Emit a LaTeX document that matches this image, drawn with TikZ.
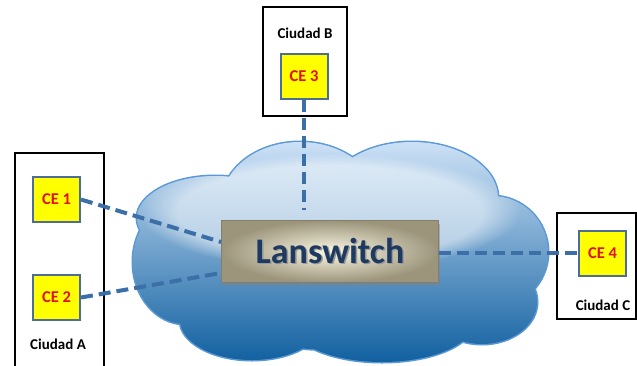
\documentclass[tikz,border=0pt]{standalone}
\usepackage{fontspec}
\setmainfont{Carlito}
\usetikzlibrary{shadows,fadings}
\definecolor{linkblue}{HTML}{3C6EA8}
\definecolor{ceborder}{HTML}{4E6D94}
\definecolor{cered}{HTML}{E0100A}
\definecolor{ceyellow}{HTML}{FFFF00}
\definecolor{cloudtop}{HTML}{CFE3F7}
\definecolor{cloudmid}{HTML}{3C8BD0}
\definecolor{cloudbot}{HTML}{0E5E9F}
\definecolor{cloudrim}{HTML}{5A98D6}
\definecolor{lancenter}{HTML}{FBF7E2}
\definecolor{lanedge}{HTML}{9C957C}
\definecolor{lanborder}{HTML}{857F6A}
\definecolor{lantext}{HTML}{1F3A60}
\begin{document}
\begin{tikzpicture}[x=1pt,y=-1pt,
  site/.style={draw=black, line width=1.2pt, fill=white, inner sep=0pt},
  cebox/.style={draw=ceborder, line width=2pt, fill=ceyellow, minimum width=47pt,
    minimum height=45pt, inner sep=0pt, text=cered, font=\fontsize{16.5}{18}\selectfont\bfseries},
  sitelabel/.style={font=\fontsize{15}{17}\selectfont\bfseries, inner sep=0pt},
  link/.style={draw=linkblue, line width=4pt, dash pattern=on 12pt off 6pt},
  switchbox/.style={draw=lanborder, line width=0.8pt, inner color=lancenter, outer color=lanedge,
    minimum width=217pt, minimum height=62pt, inner sep=0pt, text=lantext,
    font=\fontsize{36}{40}\selectfont\bfseries,
    drop shadow={shadow xshift=1pt, shadow yshift=-3pt, opacity=0.45}}
]
\useasboundingbox (0,0) rectangle (637,365);

% city enclosures
\node[site, minimum width=89pt, minimum height=232pt] (cityA) at (59.5,269) {};
\node[site, minimum width=84pt, minimum height=109pt] (cityB) at (305,61.5) {};
\node[site, minimum width=79pt, minimum height=106pt] (cityC) at (596.5,266) {};

% the cloud: rim first, then the shaded body on top
\def\cloudshape{
  (340,268) ellipse [x radius=190pt, y radius=82pt]
  (215,218) ellipse [x radius=78pt, y radius=42pt]
  (300,202) ellipse [x radius=78pt, y radius=60pt]
  (412,198) ellipse [x radius=86pt, y radius=56pt]
  (492,252) ellipse [x radius=56pt, y radius=56pt]
  (185,262) ellipse [x radius=52pt, y radius=62pt]
  (252,320) ellipse [x radius=72pt, y radius=40pt]
  (382,322) ellipse [x radius=92pt, y radius=40pt]
  (482,302) ellipse [x radius=55pt, y radius=42pt]
}
\draw[cloudrim, line width=3pt] \cloudshape;
\begin{scope}
  \clip \cloudshape;
  \shade[top color=cloudtop, middle color=cloudmid, bottom color=cloudbot] (128,138) rectangle (552,366);
  \fill[white, opacity=0.5, path fading=circle with fuzzy edge 20 percent] (330,212) ellipse [x radius=190pt, y radius=58pt];
\end{scope}

% customer edge devices
\node[cebox] (ce1) at (56.5,199.5) {CE 1};
\node[cebox] (ce2) at (56.5,297.5) {CE 2};
\node[cebox] (ce3) at (304,76) {CE 3};
\node[cebox] (ce4) at (602.5,253) {CE 4};

% central switch
\node[switchbox] (lan) at (330,251.5) {\makebox[0pt][l]{\raisebox{-1.5pt}{\hspace{1.5pt}\textcolor{black!40}{Lanswitch}}}Lanswitch};

% dashed links
\draw[link] (ce1.east) -- ([yshift=9.5pt]lan.west);
\draw[link] (ce2.east) -- ([yshift=-21.5pt]lan.west);
\draw[link, shorten >=10pt] (ce3.south) -- (ce3.south |- lan.north);
\draw[link] (lan.east |- ce4.west) -- (ce4.west);

% redraw devices above the links
\node[cebox] at (ce1) {CE 1};
\node[cebox] at (ce2) {CE 2};
\node[cebox] at (ce3) {CE 3};
\node[cebox] at (ce4) {CE 4};

% city names
\node[sitelabel] (labA) at (58,344) {Ciudad A};
\node[sitelabel] (labB) at (305,33) {Ciudad B};
\node[sitelabel] (labC) at (603,305) {Ciudad C};
\end{tikzpicture}
\end{document}
